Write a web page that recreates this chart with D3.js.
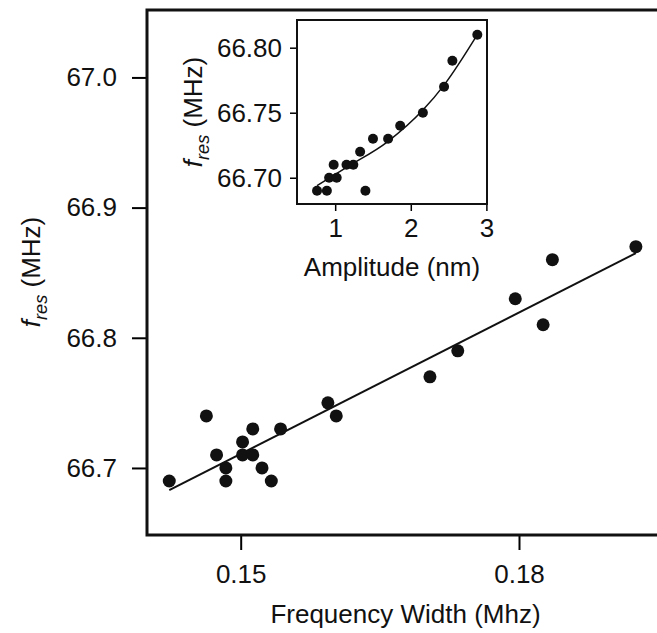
<!DOCTYPE html>
<html>
<head>
<meta charset="utf-8">
<script src="https://cdn.jsdelivr.net/npm/d3@7"></script>
<style>
  body { margin: 0; background: #fff; }
  svg text { font-family: "Liberation Sans", Arial, sans-serif; fill: #111; }
</style>
</head>
<body>
<script>
// main panel: resonance frequency vs frequency width
const widthMHz = [0.1423, 0.1463, 0.1474, 0.1484, 0.1484, 0.1502, 0.1502, 0.1513, 0.1513, 0.1523, 0.1533, 0.1543, 0.1594, 0.1603, 0.1704, 0.1734, 0.1796, 0.1826, 0.1836, 0.1926]
const fresMain = [66.69, 66.74, 66.71, 66.70, 66.69, 66.72, 66.71, 66.71, 66.73, 66.70, 66.69, 66.73, 66.75, 66.74, 66.77, 66.79, 66.83, 66.81, 66.86, 66.87]
const fitX = [0.1423, 0.1926]
const fitY = [66.683, 66.865]
const mainYTicks = [66.7, 66.8, 66.9, 67.0]
const mainXTicks = [0.15, 0.18]

// inset: resonance frequency vs amplitude
const ampNm = [0.76, 0.89, 0.92, 1.02, 0.98, 1.15, 1.24, 1.33, 1.40, 1.50, 1.70, 1.86, 2.16, 2.44, 2.55, 2.88]
const fresInset = [66.69, 66.69, 66.70, 66.70, 66.71, 66.71, 66.71, 66.72, 66.69, 66.73, 66.73, 66.74, 66.75, 66.77, 66.79, 66.81]
const curveA = [0.76, 1.15, 1.70, 2.16, 2.45, 2.88]
const curveF = [66.694, 66.708, 66.728, 66.752, 66.772, 66.810]
const insetYTicks = [66.70, 66.75, 66.80]
const insetXTicks = [1, 2, 3]

const W = 657, H = 633
const svg = d3.select('body').append('svg')
  .attr('width', W)
  .attr('height', H)

// main scales
const x = d3.scaleLinear().domain([0.1399, 0.1952]).range([147, 660])
const y = d3.scaleLinear().domain([66.6485, 67.0518]).range([535, 10])

const main = svg.append('g')

main.append('g')
  .attr('transform', 'translate(147,0)')
  .call(d3.axisLeft(y).tickValues(mainYTicks).tickFormat(d3.format('.1f')).tickSize(15).tickPadding(15))
  .call(g => g.select('.domain').remove())
  .call(g => g.selectAll('.tick line').attr('stroke-width', 2))
  .call(g => g.selectAll('text').attr('font-size', 26).attr('font-family', null))

main.append('g')
  .attr('transform', 'translate(0,535)')
  .call(d3.axisBottom(x).tickValues(mainXTicks).tickFormat(d3.format('.2f')).tickSize(15).tickPadding(15))
  .call(g => g.select('.domain').remove())
  .call(g => g.selectAll('.tick line').attr('stroke-width', 2))
  .call(g => g.selectAll('text').attr('font-size', 26).attr('font-family', null))

// frame
main.append('rect')
  .attr('x', 147).attr('y', 10)
  .attr('width', 660 - 147).attr('height', 525)
  .attr('fill', 'none')
  .attr('stroke', '#111')
  .attr('stroke-width', 3)

const line = d3.line()
  .x(d => x(d[0]))
  .y(d => y(d[1]))

main.append('path')
  .datum(d3.zip(fitX, fitY))
  .attr('d', line)
  .attr('fill', 'none')
  .attr('stroke', '#111')
  .attr('stroke-width', 2)

main.selectAll('circle.pt')
  .data(d3.zip(widthMHz, fresMain))
  .join('circle')
  .attr('class', 'pt')
  .attr('cx', d => x(d[0]))
  .attr('cy', d => y(d[1]))
  .attr('r', 6.5)
  .attr('fill', '#111')

// axis titles
svg.append('text')
  .attr('x', (147 + 660) / 2 + 2)
  .attr('y', 623)
  .attr('text-anchor', 'middle')
  .attr('font-size', 26)
  .text('Frequency Width (Mhz)')

function fresLabel (sel, size) {
  sel.append('tspan').attr('font-style', 'italic').text('f')
  sel.append('tspan').attr('font-style', 'italic').attr('font-size', size * 0.7).attr('dy', size * 0.28).text('res')
  sel.append('tspan').attr('dy', -size * 0.28).text('\u00a0(MHz)')
}

svg.append('text')
  .attr('transform', 'translate(40,272) rotate(-90)')
  .attr('text-anchor', 'middle')
  .attr('font-size', 26)
  .call(fresLabel, 26)

// inset
const xi = d3.scaleLinear().domain([0.495, 3.008]).range([297, 487])
const yi = d3.scaleLinear().domain([66.6798, 66.8213]).range([204, 20])
const inset = svg.append('g')

inset.append('g')
  .attr('transform', 'translate(297,0)')
  .call(d3.axisLeft(yi).tickValues(insetYTicks).tickFormat(d3.format('.2f')).tickSize(7).tickPadding(8))
  .call(g => g.select('.domain').remove())
  .call(g => g.selectAll('.tick line').attr('stroke-width', 1.5))
  .call(g => g.selectAll('text').attr('font-size', 26).attr('font-family', null))

inset.append('g')
  .attr('transform', 'translate(0,204)')
  .call(d3.axisBottom(xi).tickValues(insetXTicks).tickFormat(d3.format('d')).tickSize(7).tickPadding(8))
  .call(g => g.select('.domain').remove())
  .call(g => g.selectAll('.tick line').attr('stroke-width', 1.5))
  .call(g => g.selectAll('text').attr('font-size', 26).attr('font-family', null))

inset.append('rect')
  .attr('x', 297).attr('y', 20)
  .attr('width', 487 - 297).attr('height', 184)
  .attr('fill', 'none')
  .attr('stroke', '#111')
  .attr('stroke-width', 2)

const lineI = d3.line()
  .x(d => xi(d[0]))
  .y(d => yi(d[1]))
  .curve(d3.curveMonotoneX)

inset.append('path')
  .datum(d3.zip(curveA, curveF))
  .attr('d', lineI)
  .attr('fill', 'none')
  .attr('stroke', '#111')
  .attr('stroke-width', 1.5)

inset.selectAll('circle.pt')
  .data(d3.zip(ampNm, fresInset))
  .join('circle')
  .attr('class', 'pt')
  .attr('cx', d => xi(d[0]))
  .attr('cy', d => yi(d[1]))
  .attr('r', 5)
  .attr('fill', '#111')

svg.append('text')
  .attr('x', (297 + 487) / 2)
  .attr('y', 276)
  .attr('text-anchor', 'middle')
  .attr('font-size', 26)
  .text('Amplitude (nm)')

svg.append('text')
  .attr('transform', 'translate(202,112) rotate(-90)')
  .attr('text-anchor', 'middle')
  .attr('font-size', 26)
  .call(fresLabel, 26)
</script>
</body>
</html>
